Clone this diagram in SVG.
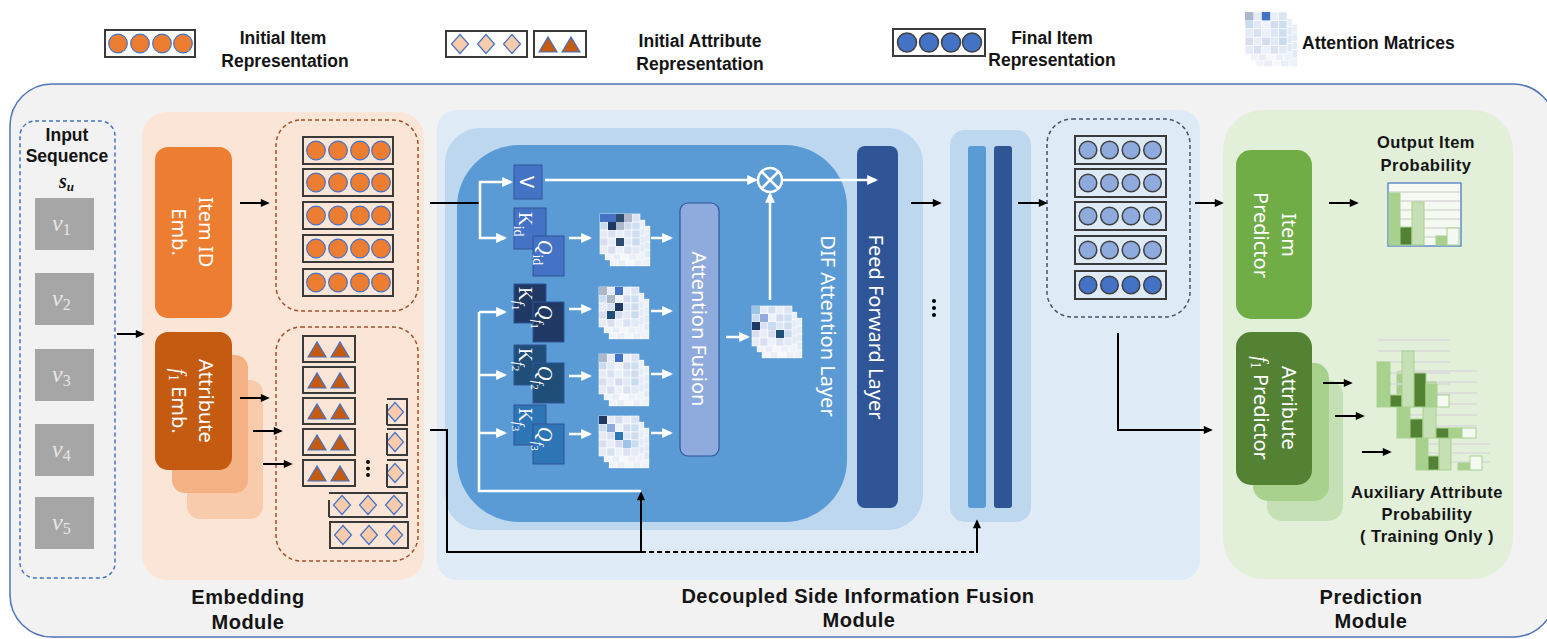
<svg xmlns="http://www.w3.org/2000/svg" width="1547" height="639" viewBox="0 0 1547 639">
<defs>
<style>
.t{font-family:"Liberation Sans",Arial,sans-serif;font-weight:bold;fill:#141414;text-anchor:middle}
.lg{font-size:17.5px}
.mt{font-size:20px;letter-spacing:0.5px}
.pt{font-size:16.5px;letter-spacing:0.5px}
.r{font-family:"Noto Sans","Open Sans",sans-serif;fill:#fff;font-size:20px;text-anchor:middle}
.m{font-family:"Liberation Serif",serif;font-style:italic}
.ab{stroke:#000;stroke-width:2;fill:none;marker-end:url(#mb)}
.aw{stroke:#fff;stroke-width:2.5;fill:none;marker-end:url(#mw)}
.lw{stroke:#fff;stroke-width:2.5;fill:none}
.oc{fill:#ED7D31;stroke:#4472C4;stroke-width:1.2}
.fc{fill:#8FAADC;stroke:#404040;stroke-width:1.5}
.bc{fill:#4472C4;stroke:#404040;stroke-width:1.5}
.tri{fill:#C55A11;stroke:#4472C4;stroke-width:1.2}
.dia{fill:#F8CBAD;stroke:#4472C4;stroke-width:1.2}
.rb{fill:none;stroke:#3a3a3a;stroke-width:2}
.cell rect{stroke:#fff;stroke-width:0.6}
.gl{stroke:#D9D9D9;stroke-width:1.5}
.bar{stroke:#A9D18E;stroke-width:1}
</style>
<marker id="mb" viewBox="0 0 10 10" refX="8" refY="5" markerWidth="10" markerHeight="9" markerUnits="userSpaceOnUse" orient="auto"><path d="M0,0.5 L10,5 L0,9.5 z" fill="#000"/></marker>
<marker id="mw" viewBox="0 0 10 10" refX="8" refY="5" markerWidth="11" markerHeight="11" markerUnits="userSpaceOnUse" orient="auto"><path d="M0,0.5 L10,5 L0,9.5 z" fill="#fff"/></marker>
<g id="hmc" class="cell">
<rect x="0" y="0" width="8" height="8" fill="#DAE3F3"/><rect x="8" y="0" width="8" height="8" fill="#E6ECF7"/><rect x="16" y="0" width="8" height="8" fill="#D5DDF0"/><rect x="24" y="0" width="8" height="8" fill="#E9EEF8"/><rect x="32" y="0" width="8" height="8" fill="#DCE4F3"/>
<rect x="0" y="8" width="8" height="8" fill="#C9DBF0"/><rect x="8" y="8" width="8" height="8" fill="#E2E9F6"/><rect x="16" y="8" width="8" height="8" fill="#EEF2FA"/><rect x="24" y="8" width="8" height="8" fill="#D3DCEF"/><rect x="32" y="8" width="8" height="8" fill="#CCE0F2"/>
<rect x="0" y="16" width="8" height="8" fill="#E4EAF6"/><rect x="8" y="16" width="8" height="8" fill="#D8E0F1"/><rect x="16" y="16" width="8" height="8" fill="#EAF0F9"/><rect x="24" y="16" width="8" height="8" fill="#DDE6F4"/><rect x="32" y="16" width="8" height="8" fill="#D0DCF0"/>
<rect x="0" y="24" width="8" height="8" fill="#D9DDEF"/><rect x="8" y="24" width="8" height="8" fill="#E8EDF8"/><rect x="16" y="24" width="8" height="8" fill="#D4DCEE"/><rect x="24" y="24" width="8" height="8" fill="#E2E8F5"/><rect x="32" y="24" width="8" height="8" fill="#C8DCF0"/>
<rect x="0" y="32" width="8" height="8" fill="#E6EBF6"/><rect x="8" y="32" width="8" height="8" fill="#D7DFF0"/><rect x="16" y="32" width="8" height="8" fill="#EDF1F9"/><rect x="24" y="32" width="8" height="8" fill="#DCE2F2"/><rect x="32" y="32" width="8" height="8" fill="#E3E9F5"/>
</g>
<g id="hmb"><rect width="40" height="40" fill="#fff"/><use href="#hmc" opacity="0.55"/></g>
<g id="hmf"><rect width="40" height="40" fill="#fff"/><use href="#hmc"/></g>
<g id="stk"><use href="#hmb" x="10" y="12"/><use href="#hmb" x="5" y="6"/><use href="#hmf"/></g>
<g id="orow"><rect class="rb" x="0" y="0" width="90" height="27"/><circle class="oc" cx="13" cy="13.5" r="9.3"/><circle class="oc" cx="35" cy="13.5" r="9.3"/><circle class="oc" cx="57" cy="13.5" r="9.3"/><circle class="oc" cx="78" cy="13.5" r="9.3"/></g>
<g id="frow"><rect class="rb" x="0" y="0" width="91" height="28"/><circle class="fc" cx="13" cy="14" r="8.8"/><circle class="fc" cx="34.5" cy="14" r="8.8"/><circle class="fc" cx="56" cy="14" r="8.8"/><circle class="fc" cx="77.5" cy="14" r="8.8"/></g>
<g id="trow"><rect class="rb" x="0" y="0" width="52" height="26"/><polygon class="tri" points="5,21 14,6 23,21"/><polygon class="tri" points="28,21 37,6 46,21"/></g>
<polygon id="dm" class="dia" points="0,-9.5 8.5,0 0,9.5 -8.5,0"/>
</defs>

<rect x="0" y="0" width="1547" height="639" fill="#fff"/>

<!-- legend -->
<g id="legend">
<g transform="translate(105,30)"><use href="#orow"/></g>
<text class="t lg" x="283" y="44">Initial Item</text>
<text class="t lg" x="285" y="67">Representation</text>
<rect class="rb" x="446" y="31" width="81" height="26"/>
<use href="#dm" x="460" y="44"/><use href="#dm" x="486" y="44"/><use href="#dm" x="512" y="44"/>
<g transform="translate(534,31)"><use href="#trow"/></g>
<text class="t lg" x="700" y="47">Initial Attribute</text>
<text class="t lg" x="700" y="70">Representation</text>
<rect class="rb" x="893" y="29" width="92" height="27"/>
<circle class="bc" cx="907" cy="42.5" r="9.5"/><circle class="bc" cx="929" cy="42.5" r="9.5"/><circle class="bc" cx="951" cy="42.5" r="9.5"/><circle class="bc" cx="972" cy="42.5" r="9.5"/>
<text class="t lg" x="1052" y="44">Final Item</text>
<text class="t lg" x="1052" y="66">Representation</text>
<g transform="translate(1245,12) scale(1.05)"><use href="#stk"/><rect x="0" y="0" width="8" height="8" fill="#ADB9CA"/><rect x="16" y="0" width="8" height="8" fill="#4472C4"/></g>
<text class="t lg" x="1302" y="49" style="text-anchor:start">Attention Matrices</text>
</g>

<!-- outer container -->
<rect x="10" y="84" width="1545" height="553" rx="42" fill="#F2F2F2" stroke="#4F74B8" stroke-width="1.5"/>

<!-- input sequence -->
<g id="input">
<rect x="20" y="121" width="95" height="457" rx="15" fill="#F2F2F2" stroke="#4472C4" stroke-width="1.5" stroke-dasharray="4 3"/>
<text class="t" style="font-size:17.5px" x="67" y="141">Input</text>
<text class="t" style="font-size:17.5px" x="67" y="162">Sequence</text>
<text class="m" x="59" y="188" font-size="20" font-weight="bold" fill="#141414">s<tspan font-size="13" dy="3">u</tspan></text>
<g font-family="Liberation Serif,serif" fill="#E6E6E6">
<rect x="35" y="198" width="59" height="52" fill="#A6A6A6"/><text x="52" y="231" font-size="24" font-style="italic">v<tspan font-size="16" font-style="normal" dy="4">1</tspan></text>
<rect x="35" y="273" width="59" height="52" fill="#A6A6A6"/><text x="52" y="306" font-size="24" font-style="italic">v<tspan font-size="16" font-style="normal" dy="4">2</tspan></text>
<rect x="35" y="349" width="59" height="52" fill="#A6A6A6"/><text x="52" y="382" font-size="24" font-style="italic">v<tspan font-size="16" font-style="normal" dy="4">3</tspan></text>
<rect x="35" y="424" width="59" height="52" fill="#A6A6A6"/><text x="52" y="457" font-size="24" font-style="italic">v<tspan font-size="16" font-style="normal" dy="4">4</tspan></text>
<rect x="35" y="497" width="59" height="52" fill="#A6A6A6"/><text x="52" y="530" font-size="24" font-style="italic">v<tspan font-size="16" font-style="normal" dy="4">5</tspan></text>
</g>
</g>

<!-- embedding module -->
<g id="embedding">
<rect x="142" y="112" width="282" height="468" rx="25" fill="#FBE5D6"/>
<text class="t mt" x="248" y="604">Embedding</text>
<text class="t mt" x="248" y="629">Module</text>
</g>
<g id="item-emb">
<rect x="155" y="147" width="77" height="171" rx="13" fill="#ED7D31"/>
<text class="r" transform="translate(199,232) rotate(90)">Item ID</text>
<text class="r" transform="translate(172,232) rotate(90)">Emb.</text>
</g>
<g id="attr-emb">
<rect x="187" y="380" width="76" height="139" rx="13" fill="#F8CBAD"/>
<rect x="172" y="355" width="76" height="138" rx="13" fill="#F4B183"/>
<rect x="155" y="332" width="77" height="138" rx="13" fill="#C55A11"/>
<text class="r" transform="translate(199,401) rotate(90)">Attribute</text>
<text class="r" transform="translate(172,401) rotate(90)"><tspan font-family="Liberation Serif,serif" font-style="italic">f</tspan><tspan font-family="Liberation Serif,serif" font-size="14" dy="3">1</tspan><tspan dy="-3"> Emb.</tspan></text>
</g>
<g id="item-reps">
<rect x="276" y="120" width="142" height="191" rx="25" fill="none" stroke="#A0522D" stroke-width="1.5" stroke-dasharray="4 3"/>
<use href="#orow" x="303" y="137"/><use href="#orow" x="303" y="169"/><use href="#orow" x="303" y="202"/><use href="#orow" x="303" y="235"/><use href="#orow" x="303" y="269"/>
</g>
<g id="attr-reps">
<rect x="276" y="327" width="142" height="234" rx="25" fill="none" stroke="#A0522D" stroke-width="1.5" stroke-dasharray="4 3"/>
<use href="#trow" x="303" y="336"/><use href="#trow" x="303" y="367"/><use href="#trow" x="303" y="398"/><use href="#trow" x="303" y="429"/><use href="#trow" x="303" y="460"/>
<circle cx="368" cy="462" r="1.9"/><circle cx="368" cy="468.5" r="1.9"/><circle cx="368" cy="475" r="1.9"/>
<use href="#dm" x="395" y="412"/><path class="rb" d="M387,399 H407 V425 H387 M387,404 V425"/>
<use href="#dm" x="395" y="442"/><path class="rb" d="M387,429 H407 V455 H387 M387,433 V455"/>
<use href="#dm" x="395" y="473"/><path class="rb" d="M387,460 H407 V487 H387 M387,464 V487"/>
<use href="#dm" x="342" y="505"/><use href="#dm" x="368" y="505"/><use href="#dm" x="394" y="505"/><path class="rb" d="M329,493 H407 V517 H329 M329,500 V517"/>
<rect class="rb" x="330" y="522" width="78" height="26"/>
<use href="#dm" x="343" y="535"/><use href="#dm" x="369" y="535"/><use href="#dm" x="394" y="535"/>
</g>

<!-- DSIF module -->
<g id="dsif">
<rect x="437" y="110" width="763" height="470" rx="20" fill="#DEEBF7"/>
<rect x="445" y="128" width="478" height="402" rx="35" fill="#BDD7EE"/>
<text class="t mt" x="858" y="603">Decoupled Side Information Fusion</text>
<text class="t mt" x="859" y="627">Module</text>
</g>
<g id="dif-layer">
<rect x="457" y="145" width="390" height="377" rx="62" fill="#5B9BD5"/>
<text class="r" transform="translate(821,326) rotate(90)">DIF Attention Layer</text>
</g>
<g id="ffn">
<rect x="857" y="146" width="41" height="362" rx="8" fill="#2F5597"/>
<text class="r" transform="translate(869,327) rotate(90)">Feed Forward Layer</text>
</g>
<g id="layer-n">
<rect x="950" y="130" width="81" height="392" rx="15" fill="#BDD7EE"/>
<rect x="968" y="146" width="18" height="362" rx="3" fill="#5B9BD5"/>
<rect x="994" y="146" width="18" height="362" rx="3" fill="#2F5597"/>
</g>
<g id="layer-dots"><circle cx="934" cy="301" r="2"/><circle cx="934" cy="308" r="2"/><circle cx="934" cy="315" r="2"/></g>
<g id="final-reps">
<rect x="1047" y="119" width="143" height="198" rx="25" fill="none" stroke="#44546A" stroke-width="1.5" stroke-dasharray="4 3"/>
<use href="#frow" x="1075" y="136"/><use href="#frow" x="1075" y="169"/><use href="#frow" x="1075" y="202"/><use href="#frow" x="1075" y="236"/>
<rect class="rb" x="1075" y="271" width="91" height="28"/>
<circle class="bc" cx="1088" cy="285" r="8.8"/><circle class="bc" cx="1109.5" cy="285" r="8.8"/><circle class="bc" cx="1131" cy="285" r="8.8"/><circle class="bc" cx="1152.5" cy="285" r="8.8"/>
</g>

<!-- Q K V -->
<g id="v"><rect x="514" y="165" width="28" height="34" fill="#4472C4" stroke="#2F5597"/><text class="r" transform="translate(520,182) rotate(90)">V</text></g>
<g id="kq-id" font-family="Liberation Serif,serif" fill="#fff">
<rect x="514" y="208" width="32" height="41" fill="#4472C4" stroke="#2F5597"/>
<text transform="translate(519,212) rotate(90)" font-size="19">K<tspan font-size="14" dy="5">id</tspan></text>
<rect x="533" y="236" width="31" height="40" fill="#4472C4" stroke="#2F5597"/>
<text transform="translate(538,240) rotate(90)" font-size="20"><tspan font-style="italic">Q</tspan><tspan font-size="14" dy="5">id</tspan></text>
</g>
<g id="kq-f1" font-family="Liberation Serif,serif" fill="#fff">
<rect x="514" y="284" width="32" height="39" fill="#203864" stroke="#2F5597"/>
<text transform="translate(519,287) rotate(90)" font-size="19">K<tspan font-size="14" font-style="italic" dy="5">f</tspan><tspan font-size="11" dy="2">1</tspan></text>
<rect x="533" y="302" width="31" height="40" fill="#203864" stroke="#2F5597"/>
<text transform="translate(538,305) rotate(90)" font-size="20"><tspan font-style="italic">Q</tspan><tspan font-size="14" font-style="italic" dy="5">f</tspan><tspan font-size="11" dy="2">1</tspan></text>
</g>
<g id="kq-f2" font-family="Liberation Serif,serif" fill="#fff">
<rect x="514" y="345" width="32" height="40" fill="#1F4E79" stroke="#2F5597"/>
<text transform="translate(519,348) rotate(90)" font-size="19">K<tspan font-size="14" font-style="italic" dy="5">f</tspan><tspan font-size="11" dy="2">2</tspan></text>
<rect x="533" y="363" width="31" height="40" fill="#1F4E79" stroke="#2F5597"/>
<text transform="translate(538,366) rotate(90)" font-size="20"><tspan font-style="italic">Q</tspan><tspan font-size="14" font-style="italic" dy="5">f</tspan><tspan font-size="11" dy="2">2</tspan></text>
</g>
<g id="kq-f3" font-family="Liberation Serif,serif" fill="#fff">
<rect x="514" y="405" width="32" height="40" fill="#2E75B6" stroke="#2F5597"/>
<text transform="translate(519,408) rotate(90)" font-size="19">K<tspan font-size="14" font-style="italic" dy="5">f</tspan><tspan font-size="11" dy="2">3</tspan></text>
<rect x="533" y="424" width="31" height="40" fill="#2E75B6" stroke="#2F5597"/>
<text transform="translate(538,427) rotate(90)" font-size="20"><tspan font-style="italic">Q</tspan><tspan font-size="14" font-style="italic" dy="5">f</tspan><tspan font-size="11" dy="2">3</tspan></text>
</g>

<!-- attention matrices -->
<g id="att-id" transform="translate(600,214)"><use href="#stk"/>
<rect x="0" y="0" width="8" height="8" fill="#4472C4"/><rect x="8" y="0" width="8" height="8" fill="#4472C4"/><rect x="16" y="0" width="8" height="8" fill="#2E4A6E"/><rect x="24" y="0" width="8" height="8" fill="#ADB9CA"/><rect x="8" y="8" width="8" height="8" fill="#1F3864"/><rect x="16" y="8" width="8" height="8" fill="#ADB9CA"/><rect x="16" y="24" width="8" height="8" fill="#2E4A6E"/></g>
<g id="att-f1" transform="translate(599,287)"><use href="#stk"/>
<rect x="0" y="0" width="8" height="8" fill="#ADB9CA"/><rect x="16" y="0" width="8" height="8" fill="#4472C4"/><rect x="8" y="8" width="8" height="8" fill="#ADB9CA"/><rect x="16" y="16" width="8" height="8" fill="#1F3864"/><rect x="8" y="24" width="8" height="8" fill="#1F4E79"/></g>
<g id="att-f2" transform="translate(599,354)"><use href="#stk"/>
<rect x="0" y="0" width="8" height="8" fill="#ADB9CA"/><rect x="16" y="0" width="8" height="8" fill="#4472C4"/></g>
<g id="att-f3" transform="translate(599,416)"><use href="#stk"/>
<rect x="0" y="0" width="8" height="8" fill="#1F3864"/><rect x="8" y="8" width="8" height="8" fill="#8FAADC"/><rect x="16" y="16" width="8" height="8" fill="#2E75B6"/><rect x="24" y="24" width="8" height="8" fill="#9DC3E6"/></g>
<g id="fusion"><rect x="680" y="203" width="39" height="253" rx="8" fill="#8FAADC" stroke="#2F5597" stroke-width="1.2"/>
<text class="r" transform="translate(692,329) rotate(90)">Attention Fusion</text></g>
<g id="att-fused" transform="translate(752,306)"><use href="#stk"/>
<rect x="0" y="0" width="8" height="8" fill="#9DC3E6"/><rect x="8" y="8" width="8" height="8" fill="#8FAADC"/><rect x="0" y="16" width="8" height="8" fill="#1F3864"/><rect x="24" y="24" width="8" height="8" fill="#1F4E79"/><rect x="16" y="16" width="8" height="8" fill="#C9DDF0"/></g>
<g id="otimes" stroke="#fff" stroke-width="2.5" fill="none"><circle cx="770" cy="180" r="12"/><path d="M761.5,171.5 L778.5,188.5 M778.5,171.5 L761.5,188.5"/></g>

<!-- prediction module -->
<g id="prediction">
<rect x="1223" y="110" width="290" height="469" rx="40" fill="#E2F0D9"/>
<text class="t mt" x="1371" y="604">Prediction</text>
<text class="t mt" x="1371" y="628">Module</text>
</g>
<g id="item-pred">
<rect x="1236" y="150" width="76" height="169" rx="15" fill="#70AD47"/>
<text class="r" transform="translate(1282,235) rotate(90)">Item</text>
<text class="r" transform="translate(1254,235) rotate(90)">Predictor</text>
</g>
<g id="attr-pred">
<rect x="1267" y="380" width="76" height="141" rx="15" fill="#C5E0B4"/>
<rect x="1253" y="363" width="76" height="138" rx="15" fill="#A9D18E"/>
<rect x="1236" y="332" width="76" height="153" rx="15" fill="#548235"/>
<text class="r" transform="translate(1282,408) rotate(90)">Attribute</text>
<text class="r" transform="translate(1254,408) rotate(90)"><tspan font-family="Liberation Serif,serif" font-style="italic">f</tspan><tspan font-family="Liberation Serif,serif" font-size="14" dy="3">1</tspan><tspan dy="-3"> Predictor</tspan></text>
</g>
<g id="out-item">
<text class="t pt" x="1426" y="148">Output Item</text>
<text class="t pt" x="1426" y="171">Probability</text>
<rect x="1388" y="183" width="73" height="63" fill="#F4F9F1" stroke="#4472C4" stroke-width="1.2"/>
<path class="gl" d="M1389,192 H1460 M1389,201 H1460 M1389,210 H1460 M1389,219 H1460 M1389,228 H1460 M1389,237 H1460"/>
<rect class="bar" x="1389" y="193" width="11" height="52" fill="#A9D18E"/>
<rect class="bar" x="1400" y="227" width="12" height="18" fill="#548235"/>
<rect class="bar" x="1412" y="202" width="12" height="43" fill="#C5E0B4"/>
<rect class="bar" x="1436" y="236" width="11" height="9" fill="#A9D18E"/>
<rect class="bar" x="1447" y="228" width="12" height="17" fill="#F4F9F1"/>
</g>
<g id="aux-attr">
<path class="gl" d="M1416,444 H1490 M1416,453 H1490 M1416,462 H1490"/>
<rect class="bar" x="1416" y="437" width="12" height="33" fill="#A9D18E"/>
<rect class="bar" x="1428" y="456" width="11" height="14" fill="#548235"/>
<rect class="bar" x="1439" y="438" width="12" height="32" fill="#C5E0B4"/>
<rect class="bar" x="1458" y="463" width="12" height="7" fill="#A9D18E"/>
<rect class="bar" x="1470" y="456" width="12" height="14" fill="#F4F9F1"/>
<path class="gl" d="M1397,371 H1477 M1397,382 H1477 M1397,393 H1477 M1397,404 H1477 M1397,415 H1477 M1397,426 H1477"/>
<rect class="bar" x="1397" y="372" width="13" height="66" fill="#A9D18E"/>
<rect class="bar" x="1410" y="419" width="13" height="19" fill="#548235"/>
<rect class="bar" x="1423" y="382" width="13" height="56" fill="#C5E0B4"/>
<rect class="bar" x="1436" y="428" width="13" height="10" fill="#548235"/>
<rect class="bar" x="1449" y="428" width="13" height="10" fill="#A9D18E"/>
<rect class="bar" x="1462" y="428" width="14" height="10" fill="#F4F9F1"/>
<path class="gl" d="M1378,340 H1450 M1378,351 H1450 M1378,362 H1450 M1378,373 H1450 M1378,384 H1450 M1378,395 H1450"/>
<rect class="bar" x="1377" y="362" width="13" height="45" fill="#A9D18E"/>
<rect class="bar" x="1390" y="395" width="12" height="12" fill="#548235"/>
<rect class="bar" x="1402" y="351" width="12" height="56" fill="#C5E0B4"/>
<rect class="bar" x="1414" y="373" width="12" height="34" fill="#548235"/>
<rect class="bar" x="1426" y="384" width="11" height="23" fill="#A9D18E"/>
<rect class="bar" x="1437" y="395" width="12" height="12" fill="#F4F9F1"/>
<text class="t pt" x="1427" y="498">Auxiliary Attribute</text>
<text class="t pt" x="1427" y="520">Probability</text>
<text class="t pt" x="1427" y="542">( Training Only )</text>
</g>

<!-- connectors -->
<g id="connectors">
<path class="ab" d="M117,334 H143"/>
<path class="ab" d="M240,203 H268"/>
<path class="ab" d="M240,398 H268"/>
<path class="ab" d="M253,431 H281"/>
<path class="ab" d="M263,464 H291"/>
<path d="M430,203 H479" stroke="#000" stroke-width="2" fill="none"/>
<path class="ab" d="M430,430 H447 V552 H641 V493"/>
<path d="M641,552 H977" stroke="#000" stroke-width="1.8" fill="none" stroke-dasharray="5 3"/>
<path class="ab" d="M977,553 V521"/>
<path class="ab" d="M911,203 H940"/>
<path class="ab" d="M1018,203 H1046"/>
<path class="ab" d="M1195,203 H1222"/>
<path class="ab" d="M1118,333 V430 H1211"/>
<path class="ab" d="M1329,203 H1357"/>
<path class="ab" d="M1323,383 H1351"/>
<path class="ab" d="M1335,416 H1363"/>
<path class="ab" d="M1362,452 H1390"/>
<path class="aw" d="M480,203 V182 H511"/>
<path class="aw" d="M480,203 V238 H505"/>
<path class="lw" d="M641,491 H479 V312"/>
<path class="aw" d="M479,312 H505"/>
<path class="aw" d="M479,375 H505"/>
<path class="aw" d="M479,433 H505"/>
<path class="aw" d="M569,238 H590"/>
<path class="aw" d="M569,309 H590"/>
<path class="aw" d="M569,376 H590"/>
<path class="aw" d="M569,434 H590"/>
<path class="aw" d="M651,238 H671"/>
<path class="aw" d="M651,311 H671"/>
<path class="aw" d="M651,374 H671"/>
<path class="aw" d="M651,433 H671"/>
<path class="aw" d="M726,337 H748"/>
<path class="aw" d="M770,300 V194"/>
<path class="aw" d="M545,180 H756"/>
<path class="aw" d="M783,180 H876"/>
</g>
</svg>
